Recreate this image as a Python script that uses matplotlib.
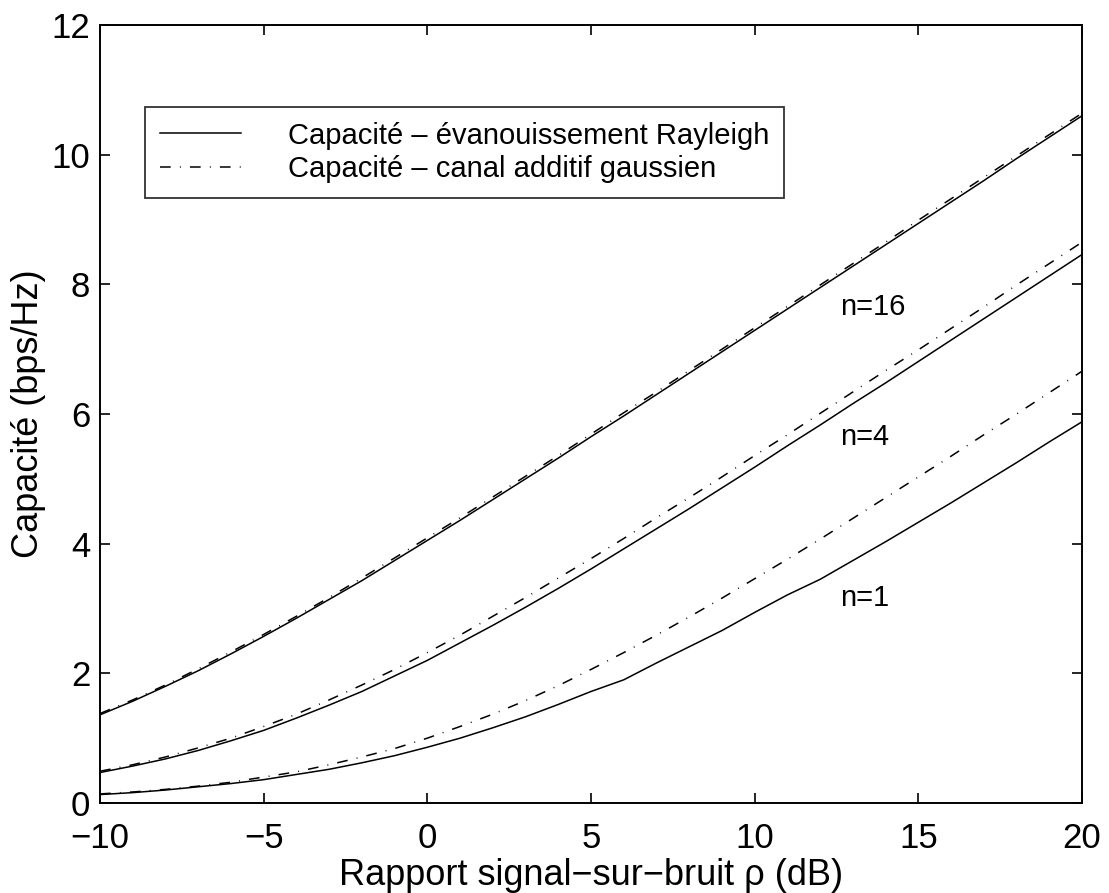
import matplotlib
matplotlib.use("Agg")
import matplotlib.pyplot as plt

plt.rcParams['font.family'] = ['Liberation Sans', 'DejaVu Sans']

# rapport signal-sur-bruit (dB)
snr_db = list(range(-10, 21))

# capacité, canal additif gaussien
awgn_n1 = [0.14, 0.17, 0.21, 0.26, 0.32, 0.40, 0.48, 0.59, 0.71, 0.84, 1.00,
           1.18, 1.37, 1.58, 1.81, 2.06, 2.32, 2.59, 2.87, 3.16, 3.46,
           3.76, 4.07, 4.39, 4.71, 5.03, 5.35, 5.68, 6.00, 6.33, 6.66]
awgn_n4 = [0.49, 0.59, 0.71, 0.85, 1.00, 1.18, 1.37, 1.59, 1.82, 2.06, 2.32,
           2.59, 2.88, 3.17, 3.47, 3.77, 4.08, 4.40, 4.71, 5.03, 5.36,
           5.68, 6.01, 6.34, 6.67, 6.99, 7.32, 7.65, 7.99, 8.32, 8.65]
awgn_n16 = [1.38, 1.59, 1.82, 2.07, 2.33, 2.60, 2.88, 3.17, 3.47, 3.78, 4.09,
            4.40, 4.72, 5.04, 5.36, 5.69, 6.02, 6.34, 6.67, 7.00, 7.33,
            7.66, 7.99, 8.32, 8.65, 8.99, 9.32, 9.65, 9.98, 10.31, 10.64]

# capacité, évanouissement Rayleigh
ray_n1 = [0.13, 0.16, 0.20, 0.25, 0.30, 0.36, 0.44, 0.52, 0.62, 0.73, 0.86,
          1.00, 1.16, 1.33, 1.52, 1.72, 1.90, 2.16, 2.41, 2.66, 2.94,
          3.21, 3.45, 3.74, 4.03, 4.33, 4.63, 4.94, 5.25, 5.57, 5.88]
ray_n4 = [0.47, 0.57, 0.68, 0.81, 0.96, 1.12, 1.31, 1.51, 1.72, 1.96, 2.20,
          2.47, 2.74, 3.02, 3.31, 3.61, 3.92, 4.23, 4.54, 4.86, 5.18,
          5.51, 5.83, 6.16, 6.48, 6.81, 7.14, 7.47, 7.80, 8.13, 8.46]
ray_n16 = [1.36, 1.57, 1.80, 2.04, 2.30, 2.57, 2.85, 3.14, 3.43, 3.74, 4.05,
           4.36, 4.68, 5.00, 5.32, 5.65, 5.97, 6.30, 6.63, 6.96, 7.29,
           7.62, 7.95, 8.28, 8.61, 8.94, 9.27, 9.60, 9.94, 10.27, 10.60]

curve_labels = ['n=16', 'n=4', 'n=1']
label_x = [12.6, 12.6, 12.6]
label_y = [7.65, 5.65, 3.16]

dashdot = (0, (7, 6, 0.6, 6))

fig = plt.figure(figsize=(11.09, 8.93), dpi=100)
ax = fig.add_axes([0.0902, 0.1008, 0.8855, 0.8712])

for ray in (ray_n16, ray_n4, ray_n1):
    ax.plot(snr_db, ray, color='black', lw=1.1, ls='-')
for awgn in (awgn_n16, awgn_n4, awgn_n1):
    ax.plot(snr_db, awgn, color='black', lw=1.1, ls=dashdot)

for lab, lx, ly in zip(curve_labels, label_x, label_y):
    ax.text(lx, ly, lab, fontsize=21, ha='left', va='center')

ax.set_xlim(-10, 20)
ax.set_ylim(0, 12)
ax.set_xticks([-10, -5, 0, 5, 10, 15, 20])
ax.set_yticks([0, 2, 4, 6, 8, 10, 12])
ax.set_xticklabels(['\u221210', '\u22125', '0', '5', '10', '15', '20'])
ax.tick_params(direction='in', length=7, width=1.2, labelsize=25,
               top=True, right=True)
ax.tick_params(axis='x', pad=14)
ax.tick_params(axis='y', pad=7)
for sp in ax.spines.values():
    sp.set_linewidth(1.4)

ax.set_xlabel('Rapport signal\u2212sur\u2212bruit \u03c1 (dB)', fontsize=26, labelpad=2)
ax.set_ylabel('Capacit\u00e9 (bps/Hz)', fontsize=26, labelpad=4)

h1, = ax.plot([], [], color='black', lw=1.1, ls='-')
h2, = ax.plot([], [], color='black', lw=1.1, ls=dashdot)
leg = ax.legend([h1, h2],
                ['Capacit\u00e9 \u2013 \u00e9vanouissement Rayleigh',
                 'Capacit\u00e9 \u2013 canal additif gaussien'],
                loc='upper left', bbox_to_anchor=(0.0458, 0.8946),
                fontsize=21, frameon=True, fancybox=False,
                handlelength=2.8, handletextpad=1.6, labelspacing=0.2,
                borderpad=0.5, borderaxespad=0)
leg.get_frame().set_edgecolor('black')
leg.get_frame().set_linewidth(1.3)

fig.savefig('out.png', dpi=100)
